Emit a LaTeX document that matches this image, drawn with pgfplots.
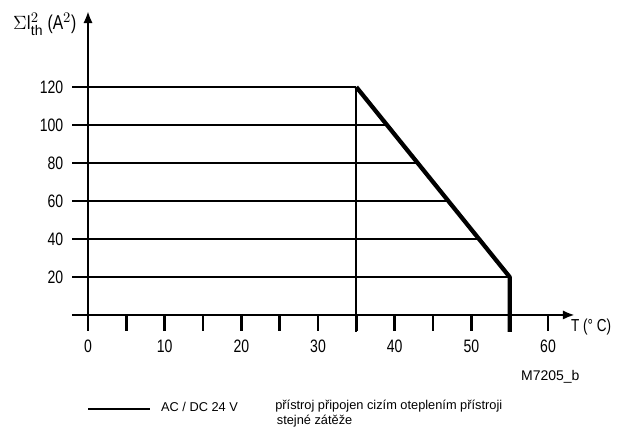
\documentclass[border=0pt]{standalone}
\usepackage{fontspec}
\setmainfont{Liberation Sans}
\newfontfamily\narrowfont[FakeStretch=0.78]{Liberation Sans}
\usepackage{pgfplots}
\pgfplotsset{compat=1.18}
\usetikzlibrary{arrows.meta}
\begin{document}
\begin{tikzpicture}
\begin{axis}[
  scale only axis, width=377.25pt, height=228pt,
  xmin=-2.1, xmax=63.5, ymin=0, ymax=160,
  axis lines=middle,
  axis line style={line width=1.8pt, -{Latex[length=9pt,width=7pt]}},
  xtick={5,10,...,60}, xticklabels={,10,,20,,30,,40,,50,,60},
  extra x ticks={0}, extra x tick labels={0},
  ytick={20,40,...,120},
  tick align=outside, major tick length=12pt,
  tick style={line width=1.8pt, black},
  ticklabel style={font=\narrowfont\fontsize{13.5}{13.5}\selectfont},
  xticklabel style={yshift=-3.5pt},
  yticklabel style={xshift=-3pt},
  /pgf/number format/assume math mode=true,
  clip=false,
]
\path (axis cs:-11.48,-67.4) rectangle (axis cs:69.0,165.8);
% grid lines clipped at the curve
\addplot[line width=1.2pt] coordinates {(0,100)(39,100)};
\addplot[line width=1.2pt] coordinates {(0,80)(43,80)};
\addplot[line width=1.8pt] coordinates {(0,60)(47,60)};
\addplot[line width=1.2pt] coordinates {(0,40)(51,40)};
\addplot[line width=1.2pt] coordinates {(0,20)(55,20)};
\addplot[line width=1.3pt] coordinates {(35,-8.9)(35,120)};
% curve
\addplot[line width=2.2pt] coordinates {(0,120)(35,120)};
\addplot[line width=3.2pt, line join=round] coordinates {(35,120)(55,20)(55,-8.9)};
% labels
\node[anchor=east, font=\narrowfont\fontsize{15}{15}\selectfont] at (axis cs:-0.9,153) {$\Sigma$I$^2_{\mathrm{th}}$ (A$^2$)};
\node[anchor=west, font=\narrowfont\fontsize{13}{13}\selectfont] at (axis cs:62.4,-6.2) {T (° C)};
\node[anchor=center, font=\fontsize{10.5}{10.5}\selectfont] at (axis cs:60.3,-32.6) {M7205\_b};
% legend
\draw[line width=1.8pt] (axis cs:0.0,-49.5) -- (axis cs:8.1,-49.5);
\node[anchor=west, inner sep=0pt, font=\fontsize{9.6}{9.6}\selectfont] at (axis cs:9.5,-48.4) {AC / DC 24 V};
\node[anchor=west, inner sep=0pt, font=\fontsize{9.6}{9.6}\selectfont] at (axis cs:24.4,-47.9) {přístroj připojen cizím oteplením přístroji};
\node[anchor=west, inner sep=0pt, font=\fontsize{9.6}{9.6}\selectfont] at (axis cs:24.6,-55.8) {stejné zátěže};
\end{axis}
\end{tikzpicture}
\end{document}
